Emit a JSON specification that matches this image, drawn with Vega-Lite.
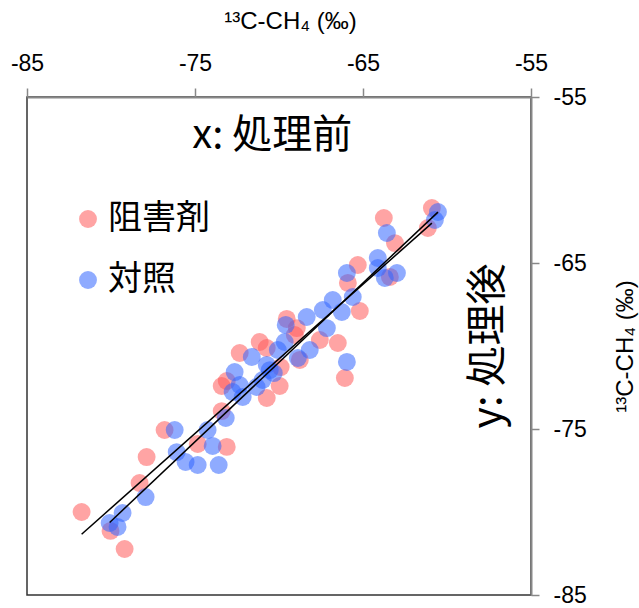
{
  "$schema": "https://vega.github.io/schema/vega-lite/v6.json",
  "width": 504,
  "height": 498,
  "autosize": {"type": "none"},
  "padding": {"left": 27, "top": 97, "right": 108, "bottom": 13},
  "config": {
    "view": {"stroke": "#333333", "strokeWidth": 1.5},
    "font": "Liberation Sans"
  },
  "datasets": {
    "pts": [
      {"g": "阻害剤", "x": -81.75, "y": -80.0},
      {"g": "阻害剤", "x": -80.03, "y": -81.14},
      {"g": "阻害剤", "x": -79.19, "y": -82.23},
      {"g": "阻害剤", "x": -78.3, "y": -78.25},
      {"g": "阻害剤", "x": -77.88, "y": -76.69},
      {"g": "阻害剤", "x": -76.81, "y": -75.06},
      {"g": "阻害剤", "x": -74.84, "y": -75.9},
      {"g": "阻害剤", "x": -73.11, "y": -76.08},
      {"g": "阻害剤", "x": -73.41, "y": -73.92},
      {"g": "阻害剤", "x": -73.41, "y": -72.41},
      {"g": "阻害剤", "x": -73.11, "y": -72.11},
      {"g": "阻害剤", "x": -72.34, "y": -70.42},
      {"g": "阻害剤", "x": -71.15, "y": -69.76},
      {"g": "阻害剤", "x": -70.73, "y": -70.12},
      {"g": "阻害剤", "x": -70.73, "y": -73.13},
      {"g": "阻害剤", "x": -69.96, "y": -72.41},
      {"g": "阻害剤", "x": -69.54, "y": -68.37},
      {"g": "阻害剤", "x": -69.06, "y": -69.34},
      {"g": "阻害剤", "x": -68.76, "y": -70.84},
      {"g": "阻害剤", "x": -68.94, "y": -68.92},
      {"g": "阻害剤", "x": -67.57, "y": -69.64},
      {"g": "阻害剤", "x": -66.5, "y": -69.82},
      {"g": "阻害剤", "x": -66.08, "y": -71.93},
      {"g": "阻害剤", "x": -65.19, "y": -67.89},
      {"g": "阻害剤", "x": -65.9, "y": -66.2},
      {"g": "阻害剤", "x": -65.31, "y": -65.12},
      {"g": "阻害剤", "x": -63.4, "y": -65.84},
      {"g": "阻害剤", "x": -63.76, "y": -62.29},
      {"g": "阻害剤", "x": -63.1, "y": -63.8},
      {"g": "阻害剤", "x": -60.9, "y": -61.69},
      {"g": "阻害剤", "x": -61.14, "y": -62.89},
      {"g": "阻害剤", "x": -69.9, "y": -71.27},
      {"g": "対照", "x": -80.08, "y": -80.66},
      {"g": "対照", "x": -79.61, "y": -80.9},
      {"g": "対照", "x": -79.31, "y": -80.06},
      {"g": "対照", "x": -77.94, "y": -79.1},
      {"g": "対照", "x": -76.09, "y": -76.39},
      {"g": "対照", "x": -75.56, "y": -76.99},
      {"g": "対照", "x": -74.84, "y": -77.17},
      {"g": "対照", "x": -73.59, "y": -77.17},
      {"g": "対照", "x": -73.95, "y": -76.02},
      {"g": "対照", "x": -76.21, "y": -75.06},
      {"g": "対照", "x": -74.25, "y": -75.06},
      {"g": "対照", "x": -73.17, "y": -74.34},
      {"g": "対照", "x": -72.76, "y": -72.77},
      {"g": "対照", "x": -72.34, "y": -72.35},
      {"g": "対照", "x": -72.16, "y": -73.07},
      {"g": "対照", "x": -71.33, "y": -72.47},
      {"g": "対照", "x": -70.97, "y": -72.05},
      {"g": "対照", "x": -72.64, "y": -71.57},
      {"g": "対照", "x": -70.55, "y": -71.45},
      {"g": "対照", "x": -70.31, "y": -71.63},
      {"g": "対照", "x": -71.62, "y": -70.66},
      {"g": "対照", "x": -70.07, "y": -70.24},
      {"g": "対照", "x": -69.66, "y": -69.76},
      {"g": "対照", "x": -69.6, "y": -68.73},
      {"g": "対照", "x": -68.35, "y": -68.25},
      {"g": "対照", "x": -68.17, "y": -70.24},
      {"g": "対照", "x": -67.39, "y": -67.83},
      {"g": "対照", "x": -67.15, "y": -68.92},
      {"g": "対照", "x": -66.8, "y": -67.23},
      {"g": "対照", "x": -66.26, "y": -67.95},
      {"g": "対照", "x": -65.61, "y": -67.05},
      {"g": "対照", "x": -65.96, "y": -65.6},
      {"g": "対照", "x": -64.12, "y": -65.3},
      {"g": "対照", "x": -63.7, "y": -65.9},
      {"g": "対照", "x": -64.12, "y": -64.7},
      {"g": "対照", "x": -62.98, "y": -65.6},
      {"g": "対照", "x": -63.58, "y": -63.19},
      {"g": "対照", "x": -60.54, "y": -61.93},
      {"g": "対照", "x": -60.72, "y": -62.41},
      {"g": "対照", "x": -65.96, "y": -70.96},
      {"g": "対照", "x": -68.88, "y": -70.72},
      {"g": "対照", "x": -70.73, "y": -71.14}
    ],
    "notes": [
      {"label": "x:  処理前", "x": -70.4, "y": -57.35},
      {"label": "y:  処理後", "x": -57.5, "y": -70.0}
    ]
  },
  "layer": [
    {
      "data": {"name": "pts"},
      "mark": {"type": "circle", "size": 320, "opacity": 0.55},
      "encoding": {
        "x": {
          "field": "x", "type": "quantitative",
          "scale": {"domain": [-85, -55], "nice": false, "zero": false},
          "axis": {
            "orient": "top", "values": [-85, -75, -65, -55], "grid": false,
            "labelExpr": "toString(datum.value)",
            "title": "¹³C-CH₄ (‰)", "titleFontSize": 24, "titleFontWeight": "normal",
            "titleColor": "black", "titleX": 263, "titleY": -76, "titleBaseline": "middle",
            "labelFontSize": 23, "labelColor": "black", "labelPadding": 13,
            "tickSize": 9, "tickColor": "#888888", "domainColor": "#888888",
            "domainWidth": 2, "tickWidth": 1.5, "labelFlush": false
          }
        },
        "y": {
          "field": "y", "type": "quantitative",
          "scale": {"domain": [-85, -55], "nice": false, "zero": false},
          "axis": {
            "orient": "right", "values": [-85, -75, -65, -55], "grid": false,
            "labelExpr": "toString(datum.value)",
            "title": "¹³C-CH₄ (‰)", "titleFontSize": 24, "titleFontWeight": "normal",
            "titleColor": "black", "titleAngle": 270, "titleX": 94, "titleY": 249,
            "titleBaseline": "middle", "titleAlign": "center",
            "labelFontSize": 23, "labelColor": "black", "labelPadding": 14,
            "tickSize": 8, "tickColor": "#888888", "domainColor": "#888888",
            "domainWidth": 2, "tickWidth": 1.5, "labelFlush": false
          }
        },
        "color": {
          "field": "g", "type": "nominal",
          "scale": {"domain": ["阻害剤", "対照"], "range": ["#ff5a5a", "#3366ff"]},
          "legend": {
            "orient": "none", "legendX": 44, "legendY": 105, "title": null,
            "padding": 0, "symbolType": "circle", "symbolSize": 320,
            "symbolOpacity": 0.55, "symbolStrokeWidth": 0,
            "labelFont": "Noto Sans CJK JP", "labelFontSize": 34, "labelColor": "black",
            "labelOffset": 3, "rowPadding": 27, "labelLimit": 300
          }
        }
      }
    },
    {
      "data": {"name": "pts"},
      "transform": [{"regression": "y", "on": "x", "groupby": ["g"]}],
      "mark": {"type": "line", "color": "black", "strokeWidth": 1.5},
      "encoding": {
        "x": {"field": "x", "type": "quantitative"},
        "y": {"field": "y", "type": "quantitative"},
        "detail": {"field": "g", "type": "nominal"}
      }
    },
    {
      "data": {"name": "notes"},
      "transform": [{"filter": "datum.label == 'x:  処理前'"}],
      "mark": {"type": "text", "font": "Noto Sans CJK JP", "fontSize": 40, "color": "black", "baseline": "middle", "align": "center"},
      "encoding": {
        "x": {"field": "x", "type": "quantitative"},
        "y": {"field": "y", "type": "quantitative"},
        "text": {"field": "label"}
      }
    },
    {
      "data": {"name": "notes"},
      "transform": [{"filter": "datum.label == 'y:  処理後'"}],
      "mark": {"type": "text", "font": "Noto Sans CJK JP", "fontSize": 41, "color": "black", "baseline": "middle", "align": "center", "angle": 270},
      "encoding": {
        "x": {"field": "x", "type": "quantitative"},
        "y": {"field": "y", "type": "quantitative"},
        "text": {"field": "label"}
      }
    }
  ]
}
